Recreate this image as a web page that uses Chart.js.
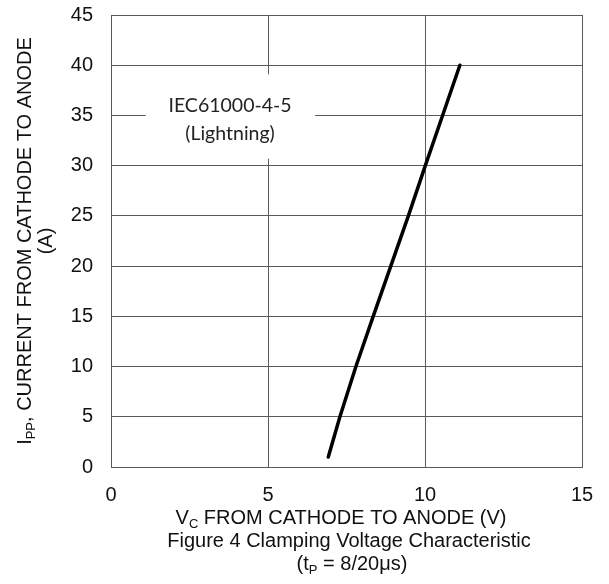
<!DOCTYPE html>
<html>
<head>
<meta charset="utf-8">
<script src="https://cdn.jsdelivr.net/npm/chart.js@4"></script>
<style>
  html, body { margin: 0; padding: 0; background: #fff; }
  #wrap { width: 609px; height: 584px; position: relative; }
</style>
</head>
<body>
<div id="wrap"><canvas id="c" width="609" height="584"></canvas></div>
<script>
// ---- data ----
const vcVolts = [6.92, 7.29, 7.80, 8.35, 8.91, 9.47, 10.01, 10.56, 11.11];
const ippAmps = [1, 5, 10, 15, 20, 25, 30, 35, 40];
const xTicks = [0, 5, 10, 15];
const yTicks = [0, 5, 10, 15, 20, 25, 30, 35, 40, 45];
const annotationLines = ['IEC61000-4-5', '(Lightning)'];
const annotationBox = { xMin: 1.11, xMax: 6.5, yMin: 30.7, yMax: 39.1 };
const annotationAnchor = { x: 3.79 };
const annotationLineY = [36.0, 33.2];

const AX = 'Liberation Sans, Arial, sans-serif';
const GRID = '#5a5a5a';

function drawSegs(ctx, segs, size, cx, cy, rotate) {
  ctx.save();
  ctx.translate(cx, cy);
  if (rotate) ctx.rotate(-Math.PI / 2);
  ctx.textBaseline = 'middle';
  ctx.textAlign = 'left';
  ctx.fillStyle = '#111';
  let total = 0;
  segs.forEach(s => {
    ctx.font = (s.sub ? Math.round(size * 0.65) : size) + 'px ' + AX;
    s.w = ctx.measureText(s.t).width;
    total += s.w;
  });
  let x = -total / 2;
  segs.forEach(s => {
    ctx.font = (s.sub ? Math.round(size * 0.65) : size) + 'px ' + AX;
    ctx.fillText(s.t, x, s.sub ? size * 0.3 : 0);
    x += s.w;
  });
  ctx.restore();
}

const textPlugin = {
  id: 'texts',
  beforeDatasetsDraw(chart) {
    const { ctx, scales: { x, y } } = chart;
    const l = x.getPixelForValue(annotationBox.xMin), r = x.getPixelForValue(annotationBox.xMax);
    const t = y.getPixelForValue(annotationBox.yMax), b = y.getPixelForValue(annotationBox.yMin);
    ctx.save();
    ctx.fillStyle = '#fff';
    ctx.fillRect(l, t, r - l, b - t);
    ctx.fillStyle = '#222';
    ctx.font = '19.5px Lato, "Open Sans", sans-serif';
    ctx.textAlign = 'center';
    ctx.textBaseline = 'middle';
    const ax = x.getPixelForValue(annotationAnchor.x);
    annotationLines.forEach((s, i) => ctx.fillText(s, ax, y.getPixelForValue(annotationLineY[i])));
    ctx.restore();
  },
  afterDraw(chart) {
    const { ctx } = chart;
    drawSegs(ctx, [{t:'I'},{t:'PP',sub:true},{t:', CURRENT FROM CATHODE TO ANODE'}], 20, 25, 241, true);
    drawSegs(ctx, [{t:'(A)'}], 20, 46, 241, true);
    drawSegs(ctx, [{t:'V'},{t:'C',sub:true},{t:' FROM CATHODE TO ANODE (V)'}], 20, 341, 518, false);
    drawSegs(ctx, [{t:'Figure 4 Clamping Voltage Characteristic'}], 20, 349, 541, false);
    drawSegs(ctx, [{t:'(t'},{t:'P',sub:true},{t:' = 8/20μs)'}], 20, 352, 564, false);
  }
};

new Chart(document.getElementById('c'), {
  type: 'scatter',
  data: {
    datasets: [{
      data: vcVolts.map((v, i) => ({ x: v, y: ippAmps[i] })),
      showLine: true,
      borderColor: '#000',
      borderWidth: 3.5,
      borderCapStyle: 'round',
      borderJoinStyle: 'round',
      pointRadius: 0,
      tension: 0
    }]
  },
  options: {
    responsive: false,
    animation: false,
    devicePixelRatio: 1,
    layout: { padding: { top: 15, right: 27, left: 0, bottom: 0 } },
    plugins: { legend: { display: false }, tooltip: { enabled: false } },
    scales: {
      x: {
        type: 'linear', min: 0, max: 15,
        afterFit: s => { s.height = 117; s.paddingLeft = 0; s.paddingRight = 0; },
        afterBuildTicks: s => { s.ticks = xTicks.map(v => ({ value: v })); },
        grid: { color: GRID, lineWidth: 1, drawTicks: false },
        border: { color: GRID, width: 1 },
        ticks: { padding: 16, color: '#111', font: { family: AX, size: 20 } }
      },
      y: {
        type: 'linear', min: 0, max: 45,
        afterFit: s => { s.width = 111; s.paddingTop = 0; s.paddingBottom = 0; },
        afterBuildTicks: s => { s.ticks = yTicks.map(v => ({ value: v })); },
        grid: { color: GRID, lineWidth: 1, drawTicks: false },
        border: { color: GRID, width: 1 },
        ticks: { padding: 18, color: '#111', font: { family: AX, size: 20 } }
      }
    }
  },
  plugins: [textPlugin]
});
</script>
</body>
</html>
